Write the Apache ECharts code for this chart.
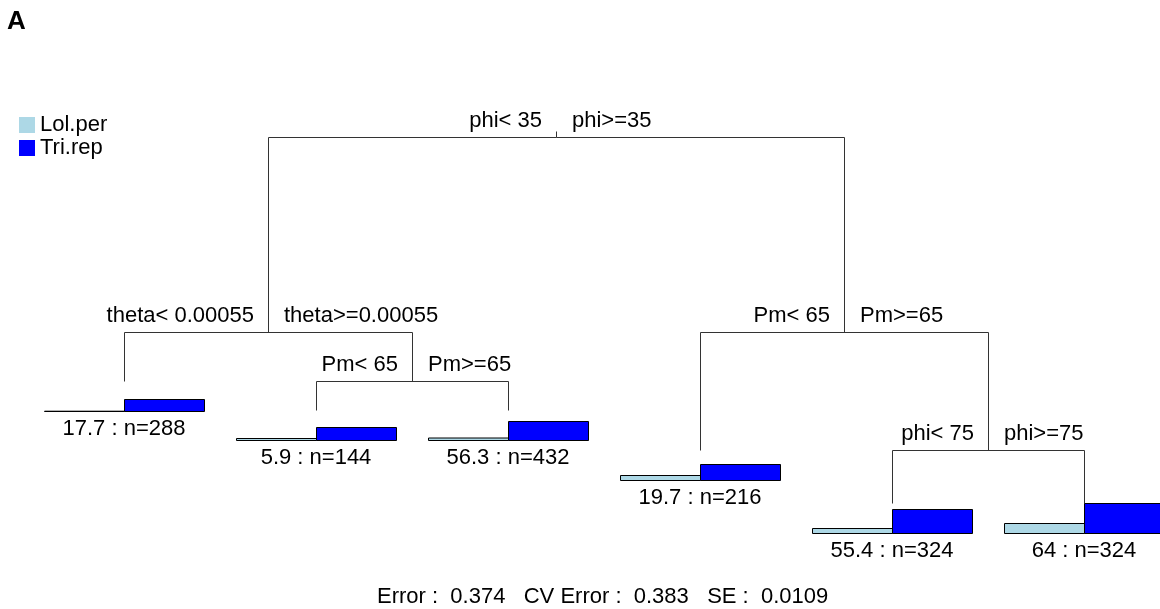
<!DOCTYPE html>
<html>
<head>
<meta charset="utf-8">
<script src="https://cdn.jsdelivr.net/npm/echarts@6/dist/echarts.min.js"></script>
<style>
html,body{margin:0;padding:0;background:#fff;}
#chart{width:1160px;height:609px;}
</style>
</head>
<body>
<div id="chart"></div>
<script>
// tree nodes, rpart numbering (children of n are 2n and 2n+1)
const nodeIds     = [1, 2, 3, 4, 5, 6, 7, 10, 11, 14, 15];
// node height on the relative error scale (root = 1)
const nodeHeights = [1.0, 0.667, 0.667, 0.583, 0.583, 0.465, 0.465, 0.533, 0.533, 0.374, 0.374];

const splitIds   = [1, 2, 5, 3, 7];
const splitLeft  = ['phi< 35', 'theta< 0.00055', 'Pm< 65', 'Pm< 65', 'phi< 75'];
const splitRight = ['phi>=35', 'theta>=0.00055', 'Pm>=65', 'Pm>=65', 'phi>=75'];

const leafIds = [4, 10, 11, 6, 14, 15];
const leafDev = ['17.7', '5.9', '56.3', '19.7', '55.4', '64'];
const leafN   = [288, 144, 432, 216, 324, 324];
// species means at each leaf (relative)
const lolPer  = [0.3, 2, 2.5, 5, 5, 10];
const triRep  = [12, 13, 19, 16, 24, 30];

const errorText = 'Error :  0.374   CV Error :  0.383   SE :  0.0109';

const FONT = '"Liberation Sans", Arial, sans-serif';
const maxVal = Math.max(...lolPer, ...triRep);

function xOf(id){
    let k = leafIds.indexOf(id);
    if(k >= 0) return k;
    return (xOf(2*id) + xOf(2*id+1)) / 2;
}
function hOf(id){
    return nodeHeights[nodeIds.indexOf(id)];
}
const px = v => Math.round(v) + 0.5;

let treeData = splitIds.map((id,i) => [xOf(id), hOf(id), xOf(2*id), hOf(2*id), xOf(2*id+1), hOf(2*id+1), i]);

function barSeries(name, values, color, side){
    return {
        type: 'custom',
        name: name,
        coordinateSystem: 'cartesian2d',
        itemStyle: {color: color},
        silent: true,
        data: leafIds.map((id,i) => [xOf(id), hOf(id), values[i]]),
        renderItem: function(params, api){
            let p = api.coord([api.value(0), api.value(1)]);
            let base = Math.round(p[1]) + 30;
            let h = api.value(2) / maxVal * 30;
            let x0 = Math.round(p[0]) + (side < 0 ? -80 : 0);
            return {
                type: 'rect',
                shape: {x: x0 + 0.5, y: base - h + 0.5, width: 80, height: h},
                style: {fill: color, stroke: '#000', lineWidth: 1}
            };
        }
    };
}

let chart = echarts.init(document.getElementById('chart'));
let options = {
    animation: false,
    grid: {left: 124, right: 76, top: 137, bottom: 106},
    xAxis: {type: 'value', min: 0, max: 5, show: false},
    yAxis: {type: 'value', min: 0.374, max: 1, show: false},
    legend: {
        data: ['Lol.per', 'Tri.rep'],
        orient: 'vertical',
        left: 19,
        top: 114,
        padding: 0,
        itemGap: 1,
        itemWidth: 16,
        itemHeight: 16,
        icon: 'rect',
        selectedMode: false,
        itemStyle: {borderWidth: 0},
        textStyle: {fontSize: 22, lineHeight: 22, fontFamily: FONT, color: '#000'}
    },
    graphic: [
        {type: 'text', left: 7, top: 9, style: {text: 'A', fontSize: 26, fontWeight: 'bold', fontFamily: FONT, fill: '#000'}},
        {type: 'text', x: 377, y: 597, style: {text: errorText, fontSize: 22, fontFamily: FONT, fill: '#000', verticalAlign: 'middle'}}
    ],
    series: [
        {
            type: 'custom',
            name: 'tree',
            coordinateSystem: 'cartesian2d',
            silent: true,
            data: treeData,
            renderItem: function(params, api){
                let p = api.coord([api.value(0), api.value(1)]);
                let l = api.coord([api.value(2), api.value(3)]);
                let r = api.coord([api.value(4), api.value(5)]);
                let i = api.value(6);
                let lineStyle = {stroke: '#333', lineWidth: 1, fill: null};
                let kids = [
                    {type: 'polyline', shape: {points: [[px(l[0]), px(l[1])], [px(l[0]), px(p[1])], [px(r[0]), px(p[1])], [px(r[0]), px(r[1])]]}, style: lineStyle},
                    {type: 'text', x: p[0] - 14, y: p[1] - 16, style: {text: splitLeft[i], align: 'right', verticalAlign: 'middle', fontSize: 22, fontFamily: FONT, fill: '#000'}},
                    {type: 'text', x: p[0] + 16, y: p[1] - 16, style: {text: splitRight[i], align: 'left', verticalAlign: 'middle', fontSize: 22, fontFamily: FONT, fill: '#000'}}
                ];
                if(i === 0){
                    kids.push({type: 'line', shape: {x1: px(p[0]), y1: px(p[1]), x2: px(p[0]), y2: px(p[1]) - 6}, style: lineStyle});
                }
                return {type: 'group', children: kids};
            }
        },
        barSeries('Lol.per', lolPer, '#ADD8E6', -1),
        barSeries('Tri.rep', triRep, '#0000FF', 1),
        {
            type: 'custom',
            name: 'leafText',
            coordinateSystem: 'cartesian2d',
            silent: true,
            data: leafIds.map((id,i) => [xOf(id), hOf(id), i]),
            renderItem: function(params, api){
                let p = api.coord([api.value(0), api.value(1)]);
                let i = api.value(2);
                return {
                    type: 'text',
                    x: p[0],
                    y: Math.round(p[1]) + 48,
                    style: {text: `${leafDev[i]} : n=${leafN[i]}`, align: 'center', verticalAlign: 'middle', fontSize: 22, fontFamily: FONT, fill: '#000'}
                };
            }
        }
    ]
};
chart.setOption(options);
</script>
</body>
</html>
